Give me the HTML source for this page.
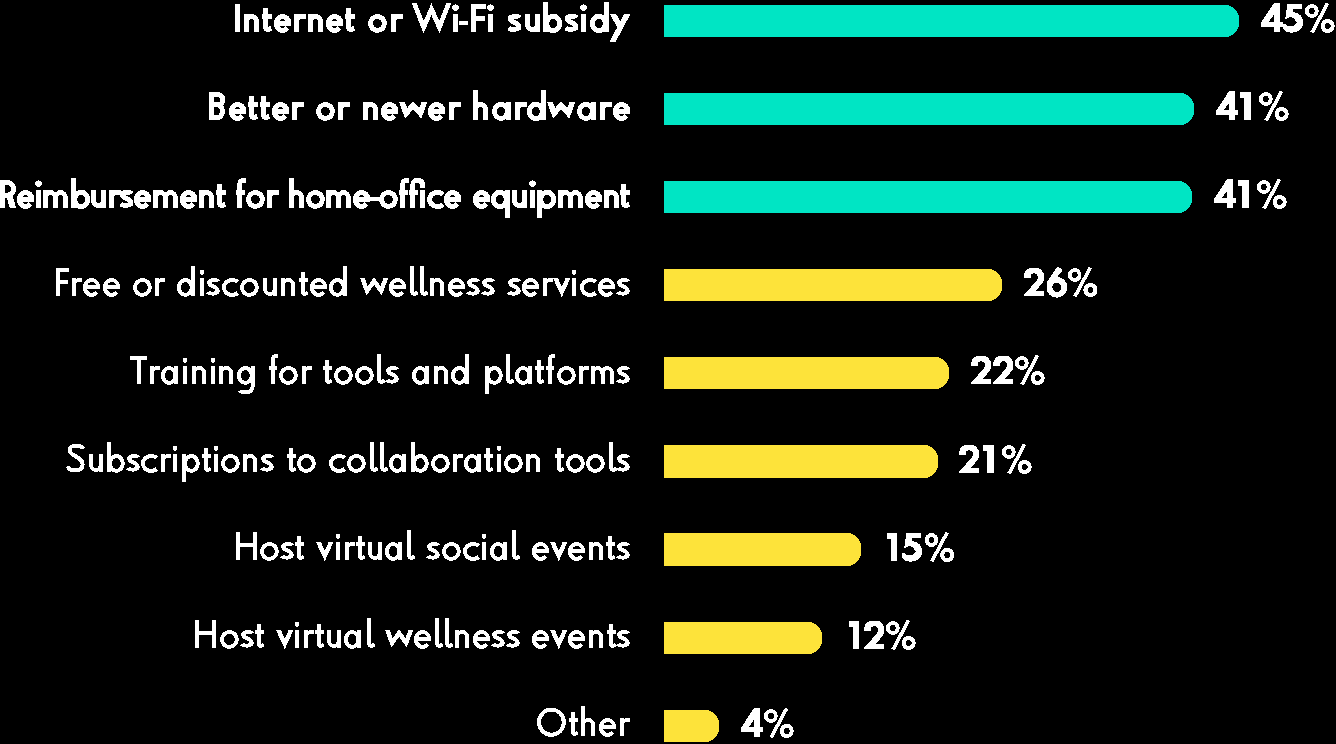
<!DOCTYPE html>
<html><head><meta charset="utf-8"><style>
html,body{margin:0;padding:0;background:#000;width:1336px;height:744px;overflow:hidden}
body{position:relative}
.bar{position:absolute;left:664px;border-radius:0 14px 14px 0}
.ov{position:absolute;left:0;top:0;fill:#fff;fill-rule:evenodd}
.ov .s{fill:none;stroke:#fff}
.tx{position:absolute;left:0;top:0;width:1336px;height:744px;overflow:hidden;color:transparent;font-family:"Liberation Sans",sans-serif;font-size:30px;line-height:34px;white-space:nowrap;pointer-events:none}
.tl{position:absolute;right:706px}
.tp{position:absolute;font-weight:bold}
</style></head><body>
<svg shape-rendering="crispEdges" class="ov" width="1336" height="744"><defs><clipPath id="cC"><rect x="-10" y="-29" width="80" height="30.7"/></clipPath><clipPath id="cX"><rect x="-10" y="-18" width="60" height="19.2"/></clipPath><clipPath id="cD"><rect x="-10" y="-18" width="60" height="28"/></clipPath></defs><path fill="#00e5c4" d="M664,5 L1225,5 A14,14 0 0 1 1239,19 L1239,23 A14,14 0 0 1 1225,37 L664,37 Z"/><path fill="#00e5c4" d="M664,93 L1180,93 A14,14 0 0 1 1194,107 L1194,111 A14,14 0 0 1 1180,125 L664,125 Z"/><path fill="#00e5c4" d="M664,181 L1178,181 A14,14 0 0 1 1192,195 L1192,199 A14,14 0 0 1 1178,213 L664,213 Z"/><path fill="#fde33a" d="M664,269 L988,269 A14,14 0 0 1 1002,283 L1002,287 A14,14 0 0 1 988,301 L664,301 Z"/><path fill="#fde33a" d="M664,357 L935,357 A14,14 0 0 1 949,371 L949,375 A14,14 0 0 1 935,389 L664,389 Z"/><path fill="#fde33a" d="M664,445 L924,445 A14,14 0 0 1 938,459 L938,464 A14,14 0 0 1 924,478 L664,478 Z"/><path fill="#fde33a" d="M664,533 L847,533 A14,14 0 0 1 861,547 L861,552 A14,14 0 0 1 847,566 L664,566 Z"/><path fill="#fde33a" d="M664,622 L808,622 A14,14 0 0 1 822,636 L822,640 A14,14 0 0 1 808,654 L664,654 Z"/><path fill="#fde33a" d="M664,710 L705,710 A14,14 0 0 1 719,724 L719,728 A14,14 0 0 1 705,742 L664,742 Z"/><g transform="translate(235.10,32)" stroke-width="5.0"><g transform="translate(-0.10,0)"><path class="s" d="M2.5,-28 L2.5,0"/></g><g transform="translate(8.90,0)"><path class="s" d="M2.5,-18 L2.5,0"/><path class="s" d="M2.5,-10.1 A5,5.4 0 0 1 12.5,-10.1 L12.5,0"/></g><g transform="translate(26.90,0)"><path class="s" d="M3.8,-24 L3.8,-5.5 C3.8,-1.6 5.4,-2.5 9.4,-3.4"/><path class="s" d="M0,-15.5 L9.7,-15.5"/></g><g transform="translate(38.90,0)"><path class="s" d="M14.9,-8.55 L14.78,-9.93 L14.41,-11.25 L13.82,-12.47 L13.03,-13.53 L12.06,-14.39 L10.97,-15.02 L9.78,-15.39 L8.55,-15.5 L7.32,-15.33 L6.15,-14.88 L5.08,-14.19 L4.16,-13.28 L3.41,-12.17 L2.87,-10.93 L2.57,-9.59 L2.51,-8.2 L2.69,-6.84 L3.11,-5.53 L3.76,-4.35 L4.6,-3.34 L5.6,-2.53 L6.73,-1.96 L7.93,-1.65 L9.16,-1.62 L10.38,-1.86 L11.53,-2.37 L12.57,-3.12 L13.45,-4.08"/><path class="s" d="M1.25,-8.5 L16.9,-8.5"/></g><g transform="translate(58.90,0)"><path class="s" d="M2.5,-18 L2.5,0"/><path class="s" d="M2.5,-10.5 C2.5,-15.5 6,-15.5 12,-15.5"/></g><g transform="translate(72.90,0)"><path class="s" d="M2.5,-18 L2.5,0"/><path class="s" d="M2.5,-10.1 A5,5.4 0 0 1 12.5,-10.1 L12.5,0"/></g><g transform="translate(90.90,0)"><path class="s" d="M14.9,-8.55 L14.78,-9.93 L14.41,-11.25 L13.82,-12.47 L13.03,-13.53 L12.06,-14.39 L10.97,-15.02 L9.78,-15.39 L8.55,-15.5 L7.32,-15.33 L6.15,-14.88 L5.08,-14.19 L4.16,-13.28 L3.41,-12.17 L2.87,-10.93 L2.57,-9.59 L2.51,-8.2 L2.69,-6.84 L3.11,-5.53 L3.76,-4.35 L4.6,-3.34 L5.6,-2.53 L6.73,-1.96 L7.93,-1.65 L9.16,-1.62 L10.38,-1.86 L11.53,-2.37 L12.57,-3.12 L13.45,-4.08"/><path class="s" d="M1.25,-8.5 L16.9,-8.5"/></g><g transform="translate(109.90,0)"><path class="s" d="M3.8,-24 L3.8,-5.5 C3.8,-1.6 5.4,-2.5 9.4,-3.4"/><path class="s" d="M0,-15.5 L9.7,-15.5"/></g><g transform="translate(132.90,0)"><path class="s" d="M2.5,-8.55 A6.95,6.95 0 1 1 16.4,-8.55 A6.95,6.95 0 1 1 2.5,-8.55 Z"/></g><g transform="translate(155.90,0)"><path class="s" d="M2.5,-18 L2.5,0"/><path class="s" d="M2.5,-10.5 C2.5,-15.5 6,-15.5 12,-15.5"/></g><g transform="translate(176.90,0)"><path class="s" clip-path="url(#cC)" stroke-width="4.75" stroke-linejoin="miter" stroke-miterlimit="20" d="M0.19,-34 L11.7,-4.78 L19.5,-22.82 L27.3,-4.78 L38.81,-34"/></g><g transform="translate(217.90,0)"><path class="s" d="M2.5,-18 L2.5,0"/><path d="M-0.7,-24.4 A3.2,3.2 0 1 1 5.7,-24.4 A3.2,3.2 0 1 1 -0.7,-24.4 Z"/></g><g transform="translate(223.90,0)"><path class="s" stroke-width="4.10" stroke-linejoin="miter" stroke-miterlimit="20" d="M0,-9.2 L9.3,-9.2"/></g><g transform="translate(235.90,0)"><path class="s" d="M2.5,0 L2.5,-25.5 L15.2,-25.5 M2.5,-13.6 L14.4,-13.6"/></g><g transform="translate(252.90,0)"><path class="s" d="M2.5,-18 L2.5,0"/><path d="M-0.7,-24.4 A3.2,3.2 0 1 1 5.7,-24.4 A3.2,3.2 0 1 1 -0.7,-24.4 Z"/></g><g transform="translate(272.90,0)"><path class="s" d="M11.49,-14.4 C10.31,-15.9 2.68,-16.1 2.25,-13.4 C1.83,-9.4 11.27,-9.8 11.06,-5 C10.95,-2.2 2.58,-2.3 0.75,-3.8"/></g><g transform="translate(289.90,0)"><path class="s" d="M12.3,-18 L12.3,0"/><path class="s" d="M2.5,-18 L2.5,-7.79 A4.9,5.29 0 0 0 12.3,-7.79"/></g><g transform="translate(307.90,0)"><path class="s" d="M3.75,-8.55 A6.38,6.95 0 1 1 16.5,-8.55 A6.38,6.95 0 1 1 3.75,-8.55 Z"/><path class="s" d="M2.5,-30 L2.5,0"/></g><g transform="translate(329.90,0)"><path class="s" d="M11.49,-14.4 C10.31,-15.9 2.68,-16.1 2.25,-13.4 C1.83,-9.4 11.27,-9.8 11.06,-5 C10.95,-2.2 2.58,-2.3 0.75,-3.8"/></g><g transform="translate(345.90,0)"><path class="s" d="M2.5,-18 L2.5,0"/><path d="M-0.7,-24.4 A3.2,3.2 0 1 1 5.7,-24.4 A3.2,3.2 0 1 1 -0.7,-24.4 Z"/></g><g transform="translate(354.90,0)"><path class="s" d="M2.5,-8.55 A6.38,6.95 0 1 1 15.25,-8.55 A6.38,6.95 0 1 1 2.5,-8.55 Z"/><path class="s" d="M16.5,-30 L16.5,0"/></g><g transform="translate(374.90,0)"><path class="s" clip-path="url(#cD)" stroke-width="5.50" stroke-linejoin="miter" stroke-miterlimit="20" d="M20.59,-24 L0.83,13"/><path class="s" clip-path="url(#cD)" stroke-width="5.50" stroke-linejoin="miter" stroke-miterlimit="20" d="M-0.09,-24 L10.25,-4.64"/></g></g><g transform="translate(209.00,120)" stroke-width="5.0"><g transform="translate(0.00,0)"><path class="s" d="M2.5,0 L2.5,-25.5 L8.16,-25.5 C15.81,-25.5 15.81,-15.2 8.16,-15.2 L2.5,-15.2 M8.16,-15.2 C15.1,-15.2 15.1,-2.5 8.16,-2.5 L2.5,-2.5"/></g><g transform="translate(20.00,0)"><path class="s" d="M14.9,-8.55 L14.78,-9.93 L14.41,-11.25 L13.82,-12.47 L13.03,-13.53 L12.06,-14.39 L10.97,-15.02 L9.78,-15.39 L8.55,-15.5 L7.32,-15.33 L6.15,-14.88 L5.08,-14.19 L4.16,-13.28 L3.41,-12.17 L2.87,-10.93 L2.57,-9.59 L2.51,-8.2 L2.69,-6.84 L3.11,-5.53 L3.76,-4.35 L4.6,-3.34 L5.6,-2.53 L6.73,-1.96 L7.93,-1.65 L9.16,-1.62 L10.38,-1.86 L11.53,-2.37 L12.57,-3.12 L13.45,-4.08"/><path class="s" d="M1.25,-8.5 L16.9,-8.5"/></g><g transform="translate(39.00,0)"><path class="s" d="M3.8,-24 L3.8,-5.5 C3.8,-1.6 5.4,-2.5 9.4,-3.4"/><path class="s" d="M0,-15.5 L9.7,-15.5"/></g><g transform="translate(51.00,0)"><path class="s" d="M3.8,-24 L3.8,-5.5 C3.8,-1.6 5.4,-2.5 9.4,-3.4"/><path class="s" d="M0,-15.5 L9.7,-15.5"/></g><g transform="translate(63.00,0)"><path class="s" d="M14.9,-8.55 L14.78,-9.93 L14.41,-11.25 L13.82,-12.47 L13.03,-13.53 L12.06,-14.39 L10.97,-15.02 L9.78,-15.39 L8.55,-15.5 L7.32,-15.33 L6.15,-14.88 L5.08,-14.19 L4.16,-13.28 L3.41,-12.17 L2.87,-10.93 L2.57,-9.59 L2.51,-8.2 L2.69,-6.84 L3.11,-5.53 L3.76,-4.35 L4.6,-3.34 L5.6,-2.53 L6.73,-1.96 L7.93,-1.65 L9.16,-1.62 L10.38,-1.86 L11.53,-2.37 L12.57,-3.12 L13.45,-4.08"/><path class="s" d="M1.25,-8.5 L16.9,-8.5"/></g><g transform="translate(83.00,0)"><path class="s" d="M2.5,-18 L2.5,0"/><path class="s" d="M2.5,-10.5 C2.5,-15.5 6,-15.5 12,-15.5"/></g><g transform="translate(107.00,0)"><path class="s" d="M2.5,-8.55 A6.95,6.95 0 1 1 16.4,-8.55 A6.95,6.95 0 1 1 2.5,-8.55 Z"/></g><g transform="translate(129.00,0)"><path class="s" d="M2.5,-18 L2.5,0"/><path class="s" d="M2.5,-10.5 C2.5,-15.5 6,-15.5 12,-15.5"/></g><g transform="translate(154.00,0)"><path class="s" d="M2.5,-18 L2.5,0"/><path class="s" d="M2.5,-10.1 A5,5.4 0 0 1 12.5,-10.1 L12.5,0"/></g><g transform="translate(172.00,0)"><path class="s" d="M14.9,-8.55 L14.78,-9.93 L14.41,-11.25 L13.82,-12.47 L13.03,-13.53 L12.06,-14.39 L10.97,-15.02 L9.78,-15.39 L8.55,-15.5 L7.32,-15.33 L6.15,-14.88 L5.08,-14.19 L4.16,-13.28 L3.41,-12.17 L2.87,-10.93 L2.57,-9.59 L2.51,-8.2 L2.69,-6.84 L3.11,-5.53 L3.76,-4.35 L4.6,-3.34 L5.6,-2.53 L6.73,-1.96 L7.93,-1.65 L9.16,-1.62 L10.38,-1.86 L11.53,-2.37 L12.57,-3.12 L13.45,-4.08"/><path class="s" d="M1.25,-8.5 L16.9,-8.5"/></g><g transform="translate(190.00,0)"><path class="s" clip-path="url(#cX)" stroke-width="5.50" stroke-linejoin="miter" stroke-miterlimit="20" d="M0.71,-24 L7.1,-6.73 L14.2,-14.67 L21.3,-6.73 L27.69,-24"/></g><g transform="translate(219.00,0)"><path class="s" d="M14.9,-8.55 L14.78,-9.93 L14.41,-11.25 L13.82,-12.47 L13.03,-13.53 L12.06,-14.39 L10.97,-15.02 L9.78,-15.39 L8.55,-15.5 L7.32,-15.33 L6.15,-14.88 L5.08,-14.19 L4.16,-13.28 L3.41,-12.17 L2.87,-10.93 L2.57,-9.59 L2.51,-8.2 L2.69,-6.84 L3.11,-5.53 L3.76,-4.35 L4.6,-3.34 L5.6,-2.53 L6.73,-1.96 L7.93,-1.65 L9.16,-1.62 L10.38,-1.86 L11.53,-2.37 L12.57,-3.12 L13.45,-4.08"/><path class="s" d="M1.25,-8.5 L16.9,-8.5"/></g><g transform="translate(240.00,0)"><path class="s" d="M2.5,-18 L2.5,0"/><path class="s" d="M2.5,-10.5 C2.5,-15.5 6,-15.5 12,-15.5"/></g><g transform="translate(264.00,0)"><path class="s" d="M2.5,-30 L2.5,0"/><path class="s" d="M2.5,-10.1 A5,5.4 0 0 1 12.5,-10.1 L12.5,0"/></g><g transform="translate(283.00,0)"><path class="s" d="M2.5,-8.55 A6.47,6.95 0 1 1 15.45,-8.55 A6.47,6.95 0 1 1 2.5,-8.55 Z"/><path class="s" d="M16.7,-18 L16.7,0"/></g><g transform="translate(306.00,0)"><path class="s" d="M2.5,-18 L2.5,0"/><path class="s" d="M2.5,-10.5 C2.5,-15.5 6,-15.5 12,-15.5"/></g><g transform="translate(318.00,0)"><path class="s" d="M2.5,-8.55 A6.38,6.95 0 1 1 15.25,-8.55 A6.38,6.95 0 1 1 2.5,-8.55 Z"/><path class="s" d="M16.5,-30 L16.5,0"/></g><g transform="translate(338.00,0)"><path class="s" clip-path="url(#cX)" stroke-width="5.50" stroke-linejoin="miter" stroke-miterlimit="20" d="M0.71,-24 L7.1,-6.73 L14.2,-14.67 L21.3,-6.73 L27.69,-24"/></g><g transform="translate(368.00,0)"><path class="s" d="M2.5,-8.55 A6.47,6.95 0 1 1 15.45,-8.55 A6.47,6.95 0 1 1 2.5,-8.55 Z"/><path class="s" d="M16.7,-18 L16.7,0"/></g><g transform="translate(391.00,0)"><path class="s" d="M2.5,-18 L2.5,0"/><path class="s" d="M2.5,-10.5 C2.5,-15.5 6,-15.5 12,-15.5"/></g><g transform="translate(404.00,0)"><path class="s" d="M14.9,-8.55 L14.78,-9.93 L14.41,-11.25 L13.82,-12.47 L13.03,-13.53 L12.06,-14.39 L10.97,-15.02 L9.78,-15.39 L8.55,-15.5 L7.32,-15.33 L6.15,-14.88 L5.08,-14.19 L4.16,-13.28 L3.41,-12.17 L2.87,-10.93 L2.57,-9.59 L2.51,-8.2 L2.69,-6.84 L3.11,-5.53 L3.76,-4.35 L4.6,-3.34 L5.6,-2.53 L6.73,-1.96 L7.93,-1.65 L9.16,-1.62 L10.38,-1.86 L11.53,-2.37 L12.57,-3.12 L13.45,-4.08"/><path class="s" d="M1.25,-8.5 L16.9,-8.5"/></g></g><g transform="translate(0.00,208)" stroke-width="5.0"><g transform="translate(0.00,0)"><path class="s" d="M2.5,0 L2.5,-25.5 L6.8,-25.5 C15.88,-25.5 15.88,-12.8 6.8,-12.8 L2.5,-12.8"/><path d="M5.83,-13.6 L12.08,-13.6 L16.2,0 L9.7,0 Z"/></g><g transform="translate(17.00,0)"><path class="s" d="M14.9,-8.55 L14.78,-9.93 L14.41,-11.25 L13.82,-12.47 L13.03,-13.53 L12.06,-14.39 L10.97,-15.02 L9.78,-15.39 L8.55,-15.5 L7.32,-15.33 L6.15,-14.88 L5.08,-14.19 L4.16,-13.28 L3.41,-12.17 L2.87,-10.93 L2.57,-9.59 L2.51,-8.2 L2.69,-6.84 L3.11,-5.53 L3.76,-4.35 L4.6,-3.34 L5.6,-2.53 L6.73,-1.96 L7.93,-1.65 L9.16,-1.62 L10.38,-1.86 L11.53,-2.37 L12.57,-3.12 L13.45,-4.08"/><path class="s" d="M1.25,-8.5 L16.9,-8.5"/></g><g transform="translate(36.00,0)"><path class="s" d="M2.5,-18 L2.5,0"/><path d="M-0.7,-24.4 A3.2,3.2 0 1 1 5.7,-24.4 A3.2,3.2 0 1 1 -0.7,-24.4 Z"/></g><g transform="translate(43.00,0)"><path class="s" d="M2.5,-18 L2.5,0"/><path class="s" d="M2.5,-9.25 A5,6.25 0 0 1 12.5,-9.25 L12.5,0"/><path class="s" d="M12.5,-9.25 A5,6.25 0 0 1 22.5,-9.25 L22.5,0"/></g><g transform="translate(71.00,0)"><path class="s" d="M3.75,-8.55 A6.38,6.95 0 1 1 16.5,-8.55 A6.38,6.95 0 1 1 3.75,-8.55 Z"/><path class="s" d="M2.5,-30 L2.5,0"/></g><g transform="translate(91.00,0)"><path class="s" d="M12.3,-18 L12.3,0"/><path class="s" d="M2.5,-18 L2.5,-7.79 A4.9,5.29 0 0 0 12.3,-7.79"/></g><g transform="translate(109.00,0)"><path class="s" d="M2.5,-18 L2.5,0"/><path class="s" d="M2.5,-10.5 C2.5,-15.5 6,-15.5 12,-15.5"/></g><g transform="translate(120.00,0)"><path class="s" d="M11.49,-14.4 C10.31,-15.9 2.68,-16.1 2.25,-13.4 C1.83,-9.4 11.27,-9.8 11.06,-5 C10.95,-2.2 2.58,-2.3 0.75,-3.8"/></g><g transform="translate(134.00,0)"><path class="s" d="M14.9,-8.55 L14.78,-9.93 L14.41,-11.25 L13.82,-12.47 L13.03,-13.53 L12.06,-14.39 L10.97,-15.02 L9.78,-15.39 L8.55,-15.5 L7.32,-15.33 L6.15,-14.88 L5.08,-14.19 L4.16,-13.28 L3.41,-12.17 L2.87,-10.93 L2.57,-9.59 L2.51,-8.2 L2.69,-6.84 L3.11,-5.53 L3.76,-4.35 L4.6,-3.34 L5.6,-2.53 L6.73,-1.96 L7.93,-1.65 L9.16,-1.62 L10.38,-1.86 L11.53,-2.37 L12.57,-3.12 L13.45,-4.08"/><path class="s" d="M1.25,-8.5 L16.9,-8.5"/></g><g transform="translate(153.00,0)"><path class="s" d="M2.5,-18 L2.5,0"/><path class="s" d="M2.5,-9.25 A5,6.25 0 0 1 12.5,-9.25 L12.5,0"/><path class="s" d="M12.5,-9.25 A5,6.25 0 0 1 22.5,-9.25 L22.5,0"/></g><g transform="translate(180.00,0)"><path class="s" d="M14.9,-8.55 L14.78,-9.93 L14.41,-11.25 L13.82,-12.47 L13.03,-13.53 L12.06,-14.39 L10.97,-15.02 L9.78,-15.39 L8.55,-15.5 L7.32,-15.33 L6.15,-14.88 L5.08,-14.19 L4.16,-13.28 L3.41,-12.17 L2.87,-10.93 L2.57,-9.59 L2.51,-8.2 L2.69,-6.84 L3.11,-5.53 L3.76,-4.35 L4.6,-3.34 L5.6,-2.53 L6.73,-1.96 L7.93,-1.65 L9.16,-1.62 L10.38,-1.86 L11.53,-2.37 L12.57,-3.12 L13.45,-4.08"/><path class="s" d="M1.25,-8.5 L16.9,-8.5"/></g><g transform="translate(199.00,0)"><path class="s" d="M2.5,-18 L2.5,0"/><path class="s" d="M2.5,-10.1 A5,5.4 0 0 1 12.5,-10.1 L12.5,0"/></g><g transform="translate(216.00,0)"><path class="s" d="M3.8,-24 L3.8,-5.5 C3.8,-1.6 5.4,-2.5 9.4,-3.4"/><path class="s" d="M0,-15.5 L9.7,-15.5"/></g><g transform="translate(236.00,0)"><path class="s" d="M3.8,0 L3.8,-23 C3.8,-27.5 6,-27.5 10,-27.5"/><path class="s" d="M0,-15.5 L8.8,-15.5"/></g><g transform="translate(246.00,0)"><path class="s" d="M2.5,-8.55 A6.95,6.95 0 1 1 16.4,-8.55 A6.95,6.95 0 1 1 2.5,-8.55 Z"/></g><g transform="translate(267.00,0)"><path class="s" d="M2.5,-18 L2.5,0"/><path class="s" d="M2.5,-10.5 C2.5,-15.5 6,-15.5 12,-15.5"/></g><g transform="translate(289.00,0)"><path class="s" d="M2.5,-30 L2.5,0"/><path class="s" d="M2.5,-10.1 A5,5.4 0 0 1 12.5,-10.1 L12.5,0"/></g><g transform="translate(306.00,0)"><path class="s" d="M2.5,-8.55 A6.95,6.95 0 1 1 16.4,-8.55 A6.95,6.95 0 1 1 2.5,-8.55 Z"/></g><g transform="translate(326.00,0)"><path class="s" d="M2.5,-18 L2.5,0"/><path class="s" d="M2.5,-9.25 A5,6.25 0 0 1 12.5,-9.25 L12.5,0"/><path class="s" d="M12.5,-9.25 A5,6.25 0 0 1 22.5,-9.25 L22.5,0"/></g><g transform="translate(353.00,0)"><path class="s" d="M14.9,-8.55 L14.78,-9.93 L14.41,-11.25 L13.82,-12.47 L13.03,-13.53 L12.06,-14.39 L10.97,-15.02 L9.78,-15.39 L8.55,-15.5 L7.32,-15.33 L6.15,-14.88 L5.08,-14.19 L4.16,-13.28 L3.41,-12.17 L2.87,-10.93 L2.57,-9.59 L2.51,-8.2 L2.69,-6.84 L3.11,-5.53 L3.76,-4.35 L4.6,-3.34 L5.6,-2.53 L6.73,-1.96 L7.93,-1.65 L9.16,-1.62 L10.38,-1.86 L11.53,-2.37 L12.57,-3.12 L13.45,-4.08"/><path class="s" d="M1.25,-8.5 L16.9,-8.5"/></g><g transform="translate(370.00,0)"><path class="s" stroke-width="4.10" stroke-linejoin="miter" stroke-miterlimit="20" d="M0,-9.2 L9.3,-9.2"/></g><g transform="translate(379.00,0)"><path class="s" d="M2.5,-8.55 A6.95,6.95 0 1 1 16.4,-8.55 A6.95,6.95 0 1 1 2.5,-8.55 Z"/></g><g transform="translate(399.00,0)"><path class="s" d="M3.8,0 L3.8,-23 C3.8,-27.5 6,-27.5 10,-27.5"/><path class="s" d="M0,-15.5 L8.8,-15.5"/></g><g transform="translate(409.00,0)"><path class="s" d="M3.8,0 L3.8,-23 C3.8,-27.5 6,-27.5 8.7,-27.5 C12.1,-27.5 13.6,-25.5 13.6,-22.5 L13.6,-20.2"/><path class="s" d="M0,-15.5 L8.8,-15.5"/></g><g transform="translate(420.00,0)"><path class="s" d="M2.5,-18 L2.5,0"/></g><g transform="translate(427.00,0)"><path class="s" d="M16.04,-13.71 L14.98,-14.41 L13.8,-14.94 L12.53,-15.3 L11.22,-15.48 L9.88,-15.47 L8.57,-15.28 L7.31,-14.9 L6.14,-14.35 L5.09,-13.64 L4.19,-12.8 L3.47,-11.84 L2.94,-10.8 L2.61,-9.69 L2.5,-8.55 L2.61,-7.41 L2.94,-6.3 L3.47,-5.26 L4.19,-4.3 L5.09,-3.46 L6.14,-2.75 L7.31,-2.2 L8.57,-1.82 L9.88,-1.63 L11.22,-1.62 L12.53,-1.8 L13.8,-2.16 L14.98,-2.69 L16.04,-3.39"/></g><g transform="translate(444.00,0)"><path class="s" d="M14.9,-8.55 L14.78,-9.93 L14.41,-11.25 L13.82,-12.47 L13.03,-13.53 L12.06,-14.39 L10.97,-15.02 L9.78,-15.39 L8.55,-15.5 L7.32,-15.33 L6.15,-14.88 L5.08,-14.19 L4.16,-13.28 L3.41,-12.17 L2.87,-10.93 L2.57,-9.59 L2.51,-8.2 L2.69,-6.84 L3.11,-5.53 L3.76,-4.35 L4.6,-3.34 L5.6,-2.53 L6.73,-1.96 L7.93,-1.65 L9.16,-1.62 L10.38,-1.86 L11.53,-2.37 L12.57,-3.12 L13.45,-4.08"/><path class="s" d="M1.25,-8.5 L16.9,-8.5"/></g><g transform="translate(473.00,0)"><path class="s" d="M14.9,-8.55 L14.78,-9.93 L14.41,-11.25 L13.82,-12.47 L13.03,-13.53 L12.06,-14.39 L10.97,-15.02 L9.78,-15.39 L8.55,-15.5 L7.32,-15.33 L6.15,-14.88 L5.08,-14.19 L4.16,-13.28 L3.41,-12.17 L2.87,-10.93 L2.57,-9.59 L2.51,-8.2 L2.69,-6.84 L3.11,-5.53 L3.76,-4.35 L4.6,-3.34 L5.6,-2.53 L6.73,-1.96 L7.93,-1.65 L9.16,-1.62 L10.38,-1.86 L11.53,-2.37 L12.57,-3.12 L13.45,-4.08"/><path class="s" d="M1.25,-8.5 L16.9,-8.5"/></g><g transform="translate(491.00,0)"><path class="s" d="M2.5,-8.55 A6.38,6.95 0 1 1 15.25,-8.55 A6.38,6.95 0 1 1 2.5,-8.55 Z"/><path class="s" d="M16.5,-18 L16.5,10"/></g><g transform="translate(512.00,0)"><path class="s" d="M12.3,-18 L12.3,0"/><path class="s" d="M2.5,-18 L2.5,-7.79 A4.9,5.29 0 0 0 12.3,-7.79"/></g><g transform="translate(530.00,0)"><path class="s" d="M2.5,-18 L2.5,0"/><path d="M-0.7,-24.4 A3.2,3.2 0 1 1 5.7,-24.4 A3.2,3.2 0 1 1 -0.7,-24.4 Z"/></g><g transform="translate(537.00,0)"><path class="s" d="M3.75,-8.55 A6.38,6.95 0 1 1 16.5,-8.55 A6.38,6.95 0 1 1 3.75,-8.55 Z"/><path class="s" d="M2.5,-18 L2.5,10"/></g><g transform="translate(558.00,0)"><path class="s" d="M2.5,-18 L2.5,0"/><path class="s" d="M2.5,-9.25 A5,6.25 0 0 1 12.5,-9.25 L12.5,0"/><path class="s" d="M12.5,-9.25 A5,6.25 0 0 1 22.5,-9.25 L22.5,0"/></g><g transform="translate(585.00,0)"><path class="s" d="M14.9,-8.55 L14.78,-9.93 L14.41,-11.25 L13.82,-12.47 L13.03,-13.53 L12.06,-14.39 L10.97,-15.02 L9.78,-15.39 L8.55,-15.5 L7.32,-15.33 L6.15,-14.88 L5.08,-14.19 L4.16,-13.28 L3.41,-12.17 L2.87,-10.93 L2.57,-9.59 L2.51,-8.2 L2.69,-6.84 L3.11,-5.53 L3.76,-4.35 L4.6,-3.34 L5.6,-2.53 L6.73,-1.96 L7.93,-1.65 L9.16,-1.62 L10.38,-1.86 L11.53,-2.37 L12.57,-3.12 L13.45,-4.08"/><path class="s" d="M1.25,-8.5 L16.9,-8.5"/></g><g transform="translate(604.00,0)"><path class="s" d="M2.5,-18 L2.5,0"/><path class="s" d="M2.5,-10.1 A5,5.4 0 0 1 12.5,-10.1 L12.5,0"/></g><g transform="translate(620.00,0)"><path class="s" d="M3.8,-24 L3.8,-5.5 C3.8,-1.6 5.4,-2.5 9.4,-3.4"/><path class="s" d="M0,-15.5 L9.7,-15.5"/></g></g><g transform="translate(56.40,296)" stroke-width="4.0"><g transform="translate(-0.40,0)"><path class="s" d="M2,0 L2,-26 L12.9,-26 M2,-13.6 L12.1,-13.6"/></g><g transform="translate(15.60,0)"><path class="s" d="M2,-18 L2,0"/><path class="s" d="M2,-10.5 C2,-16 4.8,-16 9.6,-16"/></g><g transform="translate(26.60,0)"><path class="s" d="M15.3,-8.55 L15.17,-10.03 L14.78,-11.44 L14.14,-12.75 L13.29,-13.88 L12.26,-14.81 L11.08,-15.49 L9.8,-15.89 L8.48,-16 L7.17,-15.81 L5.91,-15.34 L4.77,-14.6 L3.78,-13.62 L2.98,-12.43 L2.4,-11.1 L2.07,-9.66 L2.01,-8.18 L2.21,-6.71 L2.66,-5.32 L3.35,-4.05 L4.25,-2.96 L5.32,-2.1 L6.53,-1.49 L7.82,-1.16 L9.15,-1.12 L10.45,-1.38 L11.68,-1.92 L12.8,-2.73 L13.74,-3.76"/><path class="s" d="M1,-9.4 L16.9,-9.4"/></g><g transform="translate(46.60,0)"><path class="s" d="M15.3,-8.55 L15.17,-10.03 L14.78,-11.44 L14.14,-12.75 L13.29,-13.88 L12.26,-14.81 L11.08,-15.49 L9.8,-15.89 L8.48,-16 L7.17,-15.81 L5.91,-15.34 L4.77,-14.6 L3.78,-13.62 L2.98,-12.43 L2.4,-11.1 L2.07,-9.66 L2.01,-8.18 L2.21,-6.71 L2.66,-5.32 L3.35,-4.05 L4.25,-2.96 L5.32,-2.1 L6.53,-1.49 L7.82,-1.16 L9.15,-1.12 L10.45,-1.38 L11.68,-1.92 L12.8,-2.73 L13.74,-3.76"/><path class="s" d="M1,-9.4 L16.9,-9.4"/></g><g transform="translate(76.60,0)"><path class="s" d="M2,-8.55 A7.4,7.45 0 1 1 16.8,-8.55 A7.4,7.45 0 1 1 2,-8.55 Z"/></g><g transform="translate(98.60,0)"><path class="s" d="M2,-18 L2,0"/><path class="s" d="M2,-10.5 C2,-16 4.8,-16 9.6,-16"/></g><g transform="translate(120.60,0)"><path class="s" d="M2,-8.55 A6.35,7.45 0 1 1 14.7,-8.55 A6.35,7.45 0 1 1 2,-8.55 Z"/><path class="s" d="M15.7,-30 L15.7,0"/></g><g transform="translate(143.60,0)"><path class="s" d="M2,-18 L2,0"/><path d="M-0.4,-23.6 A2.4,2.4 0 1 1 4.4,-23.6 A2.4,2.4 0 1 1 -0.4,-23.6 Z"/></g><g transform="translate(150.60,0)"><path class="s" d="M11.05,-14.4 C9.91,-16.4 2.58,-16.6 2.17,-13.4 C1.76,-9.4 10.84,-9.8 10.64,-5 C10.53,-1.7 2.48,-1.8 0.72,-3.8"/></g><g transform="translate(165.60,0)"><path class="s" d="M15.73,-14.09 L14.66,-14.83 L13.46,-15.4 L12.18,-15.79 L10.84,-15.98 L9.49,-15.97 L8.16,-15.76 L6.88,-15.36 L5.69,-14.77 L4.63,-14.01 L3.72,-13.11 L2.98,-12.08 L2.44,-10.96 L2.11,-9.77 L2,-8.55 L2.11,-7.33 L2.44,-6.14 L2.98,-5.02 L3.72,-3.99 L4.63,-3.09 L5.69,-2.33 L6.88,-1.74 L8.16,-1.34 L9.49,-1.13 L10.84,-1.12 L12.18,-1.31 L13.46,-1.7 L14.66,-2.27 L15.73,-3.01"/></g><g transform="translate(183.60,0)"><path class="s" d="M2,-8.55 A7.4,7.45 0 1 1 16.8,-8.55 A7.4,7.45 0 1 1 2,-8.55 Z"/></g><g transform="translate(206.60,0)"><path class="s" d="M11.8,-18 L11.8,0"/><path class="s" d="M2,-18 L2,-7.29 A4.9,5.29 0 0 0 11.8,-7.29"/></g><g transform="translate(224.60,0)"><path class="s" d="M2,-18 L2,0"/><path class="s" d="M2,-10.49 A5.1,5.51 0 0 1 12.2,-10.49 L12.2,0"/></g><g transform="translate(242.60,0)"><path class="s" d="M3.5,-24 L3.5,-5.5 C3.5,-1.6 5.1,-2 8.7,-2.9"/><path class="s" d="M0,-16 L9,-16"/></g><g transform="translate(253.60,0)"><path class="s" d="M15.3,-8.55 L15.17,-10.03 L14.78,-11.44 L14.14,-12.75 L13.29,-13.88 L12.26,-14.81 L11.08,-15.49 L9.8,-15.89 L8.48,-16 L7.17,-15.81 L5.91,-15.34 L4.77,-14.6 L3.78,-13.62 L2.98,-12.43 L2.4,-11.1 L2.07,-9.66 L2.01,-8.18 L2.21,-6.71 L2.66,-5.32 L3.35,-4.05 L4.25,-2.96 L5.32,-2.1 L6.53,-1.49 L7.82,-1.16 L9.15,-1.12 L10.45,-1.38 L11.68,-1.92 L12.8,-2.73 L13.74,-3.76"/><path class="s" d="M1,-9.4 L16.9,-9.4"/></g><g transform="translate(272.60,0)"><path class="s" d="M2,-8.55 A6.35,7.45 0 1 1 14.7,-8.55 A6.35,7.45 0 1 1 2,-8.55 Z"/><path class="s" d="M15.7,-30 L15.7,0"/></g><g transform="translate(303.60,0)"><path class="s" clip-path="url(#cX)" stroke-width="4.40" stroke-linejoin="miter" stroke-miterlimit="20" d="M0.14,-24 L7.05,-5.18 L14.1,-15.02 L21.15,-5.18 L28.06,-24"/></g><g transform="translate(332.60,0)"><path class="s" d="M15.3,-8.55 L15.17,-10.03 L14.78,-11.44 L14.14,-12.75 L13.29,-13.88 L12.26,-14.81 L11.08,-15.49 L9.8,-15.89 L8.48,-16 L7.17,-15.81 L5.91,-15.34 L4.77,-14.6 L3.78,-13.62 L2.98,-12.43 L2.4,-11.1 L2.07,-9.66 L2.01,-8.18 L2.21,-6.71 L2.66,-5.32 L3.35,-4.05 L4.25,-2.96 L5.32,-2.1 L6.53,-1.49 L7.82,-1.16 L9.15,-1.12 L10.45,-1.38 L11.68,-1.92 L12.8,-2.73 L13.74,-3.76"/><path class="s" d="M1,-9.4 L16.9,-9.4"/></g><g transform="translate(353.60,0)"><path class="s" d="M2,-30 L2,-5.5 C2,-1.6 3.6,-2 7.7,-2.9"/></g><g transform="translate(363.60,0)"><path class="s" d="M2,-30 L2,-5.5 C2,-1.6 3.6,-2 7.7,-2.9"/></g><g transform="translate(373.60,0)"><path class="s" d="M2,-18 L2,0"/><path class="s" d="M2,-10.49 A5.1,5.51 0 0 1 12.2,-10.49 L12.2,0"/></g><g transform="translate(391.60,0)"><path class="s" d="M15.3,-8.55 L15.17,-10.03 L14.78,-11.44 L14.14,-12.75 L13.29,-13.88 L12.26,-14.81 L11.08,-15.49 L9.8,-15.89 L8.48,-16 L7.17,-15.81 L5.91,-15.34 L4.77,-14.6 L3.78,-13.62 L2.98,-12.43 L2.4,-11.1 L2.07,-9.66 L2.01,-8.18 L2.21,-6.71 L2.66,-5.32 L3.35,-4.05 L4.25,-2.96 L5.32,-2.1 L6.53,-1.49 L7.82,-1.16 L9.15,-1.12 L10.45,-1.38 L11.68,-1.92 L12.8,-2.73 L13.74,-3.76"/><path class="s" d="M1,-9.4 L16.9,-9.4"/></g><g transform="translate(410.60,0)"><path class="s" d="M11.05,-14.4 C9.91,-16.4 2.58,-16.6 2.17,-13.4 C1.76,-9.4 10.84,-9.8 10.64,-5 C10.53,-1.7 2.48,-1.8 0.72,-3.8"/></g><g transform="translate(425.60,0)"><path class="s" d="M11.05,-14.4 C9.91,-16.4 2.58,-16.6 2.17,-13.4 C1.76,-9.4 10.84,-9.8 10.64,-5 C10.53,-1.7 2.48,-1.8 0.72,-3.8"/></g><g transform="translate(451.60,0)"><path class="s" d="M11.05,-14.4 C9.91,-16.4 2.58,-16.6 2.17,-13.4 C1.76,-9.4 10.84,-9.8 10.64,-5 C10.53,-1.7 2.48,-1.8 0.72,-3.8"/></g><g transform="translate(465.60,0)"><path class="s" d="M15.3,-8.55 L15.17,-10.03 L14.78,-11.44 L14.14,-12.75 L13.29,-13.88 L12.26,-14.81 L11.08,-15.49 L9.8,-15.89 L8.48,-16 L7.17,-15.81 L5.91,-15.34 L4.77,-14.6 L3.78,-13.62 L2.98,-12.43 L2.4,-11.1 L2.07,-9.66 L2.01,-8.18 L2.21,-6.71 L2.66,-5.32 L3.35,-4.05 L4.25,-2.96 L5.32,-2.1 L6.53,-1.49 L7.82,-1.16 L9.15,-1.12 L10.45,-1.38 L11.68,-1.92 L12.8,-2.73 L13.74,-3.76"/><path class="s" d="M1,-9.4 L16.9,-9.4"/></g><g transform="translate(486.60,0)"><path class="s" d="M2,-18 L2,0"/><path class="s" d="M2,-10.5 C2,-16 4.8,-16 9.6,-16"/></g><g transform="translate(496.60,0)"><path class="s" clip-path="url(#cX)" stroke-width="4.40" stroke-linejoin="miter" stroke-miterlimit="20" d="M-0.32,-24 L8.75,-4.11 L17.82,-24"/></g><g transform="translate(515.60,0)"><path class="s" d="M2,-18 L2,0"/><path d="M-0.4,-23.6 A2.4,2.4 0 1 1 4.4,-23.6 A2.4,2.4 0 1 1 -0.4,-23.6 Z"/></g><g transform="translate(523.60,0)"><path class="s" d="M15.73,-14.09 L14.66,-14.83 L13.46,-15.4 L12.18,-15.79 L10.84,-15.98 L9.49,-15.97 L8.16,-15.76 L6.88,-15.36 L5.69,-14.77 L4.63,-14.01 L3.72,-13.11 L2.98,-12.08 L2.44,-10.96 L2.11,-9.77 L2,-8.55 L2.11,-7.33 L2.44,-6.14 L2.98,-5.02 L3.72,-3.99 L4.63,-3.09 L5.69,-2.33 L6.88,-1.74 L8.16,-1.34 L9.49,-1.13 L10.84,-1.12 L12.18,-1.31 L13.46,-1.7 L14.66,-2.27 L15.73,-3.01"/></g><g transform="translate(541.60,0)"><path class="s" d="M15.3,-8.55 L15.17,-10.03 L14.78,-11.44 L14.14,-12.75 L13.29,-13.88 L12.26,-14.81 L11.08,-15.49 L9.8,-15.89 L8.48,-16 L7.17,-15.81 L5.91,-15.34 L4.77,-14.6 L3.78,-13.62 L2.98,-12.43 L2.4,-11.1 L2.07,-9.66 L2.01,-8.18 L2.21,-6.71 L2.66,-5.32 L3.35,-4.05 L4.25,-2.96 L5.32,-2.1 L6.53,-1.49 L7.82,-1.16 L9.15,-1.12 L10.45,-1.38 L11.68,-1.92 L12.8,-2.73 L13.74,-3.76"/><path class="s" d="M1,-9.4 L16.9,-9.4"/></g><g transform="translate(560.60,0)"><path class="s" d="M11.05,-14.4 C9.91,-16.4 2.58,-16.6 2.17,-13.4 C1.76,-9.4 10.84,-9.8 10.64,-5 C10.53,-1.7 2.48,-1.8 0.72,-3.8"/></g></g><g transform="translate(130.00,384)" stroke-width="4.0"><g transform="translate(0.00,0)"><path class="s" d="M0,-26 L17,-26 M8.5,-26 L8.5,0"/></g><g transform="translate(20.00,0)"><path class="s" d="M2,-18 L2,0"/><path class="s" d="M2,-10.5 C2,-16 4.8,-16 9.6,-16"/></g><g transform="translate(31.00,0)"><path class="s" d="M2,-8.55 A6.2,7.45 0 1 1 14.4,-8.55 A6.2,7.45 0 1 1 2,-8.55 Z"/><path class="s" d="M15.4,-18 L15.4,0"/></g><g transform="translate(53.00,0)"><path class="s" d="M2,-18 L2,0"/><path d="M-0.4,-23.6 A2.4,2.4 0 1 1 4.4,-23.6 A2.4,2.4 0 1 1 -0.4,-23.6 Z"/></g><g transform="translate(62.00,0)"><path class="s" d="M2,-18 L2,0"/><path class="s" d="M2,-10.49 A5.1,5.51 0 0 1 12.2,-10.49 L12.2,0"/></g><g transform="translate(81.00,0)"><path class="s" d="M2,-18 L2,0"/><path d="M-0.4,-23.6 A2.4,2.4 0 1 1 4.4,-23.6 A2.4,2.4 0 1 1 -0.4,-23.6 Z"/></g><g transform="translate(89.00,0)"><path class="s" d="M2,-18 L2,0"/><path class="s" d="M2,-10.49 A5.1,5.51 0 0 1 12.2,-10.49 L12.2,0"/></g><g transform="translate(107.00,0)"><path class="s" d="M2,-8.55 A6.35,7.45 0 1 1 14.7,-8.55 A6.35,7.45 0 1 1 2,-8.55 Z"/><path class="s" d="M15.7,-18 L15.7,1 C15.7,8.2 11.68,8 8.85,8 C6.02,8 3.54,8 2.83,6.4"/></g><g transform="translate(139.00,0)"><path class="s" d="M3.5,0 L3.5,-23 C3.5,-28 5.7,-28 9,-28"/><path class="s" d="M0,-16 L7.8,-16"/></g><g transform="translate(149.00,0)"><path class="s" d="M2,-8.55 A7.4,7.45 0 1 1 16.8,-8.55 A7.4,7.45 0 1 1 2,-8.55 Z"/></g><g transform="translate(172.00,0)"><path class="s" d="M2,-18 L2,0"/><path class="s" d="M2,-10.5 C2,-16 4.8,-16 9.6,-16"/></g><g transform="translate(193.00,0)"><path class="s" d="M3.5,-24 L3.5,-5.5 C3.5,-1.6 5.1,-2 8.7,-2.9"/><path class="s" d="M0,-16 L9,-16"/></g><g transform="translate(204.00,0)"><path class="s" d="M2,-8.55 A7.4,7.45 0 1 1 16.8,-8.55 A7.4,7.45 0 1 1 2,-8.55 Z"/></g><g transform="translate(225.00,0)"><path class="s" d="M2,-8.55 A7.4,7.45 0 1 1 16.8,-8.55 A7.4,7.45 0 1 1 2,-8.55 Z"/></g><g transform="translate(247.00,0)"><path class="s" d="M2,-30 L2,-5.5 C2,-1.6 3.6,-2 7.7,-2.9"/></g><g transform="translate(256.00,0)"><path class="s" d="M11.05,-14.4 C9.91,-16.4 2.58,-16.6 2.17,-13.4 C1.76,-9.4 10.84,-9.8 10.64,-5 C10.53,-1.7 2.48,-1.8 0.72,-3.8"/></g><g transform="translate(282.00,0)"><path class="s" d="M2,-8.55 A6.2,7.45 0 1 1 14.4,-8.55 A6.2,7.45 0 1 1 2,-8.55 Z"/><path class="s" d="M15.4,-18 L15.4,0"/></g><g transform="translate(304.00,0)"><path class="s" d="M2,-18 L2,0"/><path class="s" d="M2,-10.49 A5.1,5.51 0 0 1 12.2,-10.49 L12.2,0"/></g><g transform="translate(321.00,0)"><path class="s" d="M2,-8.55 A6.35,7.45 0 1 1 14.7,-8.55 A6.35,7.45 0 1 1 2,-8.55 Z"/><path class="s" d="M15.7,-30 L15.7,0"/></g><g transform="translate(355.00,0)"><path class="s" d="M3,-8.55 A6.35,7.45 0 1 1 15.7,-8.55 A6.35,7.45 0 1 1 3,-8.55 Z"/><path class="s" d="M2,-18 L2,10"/></g><g transform="translate(376.00,0)"><path class="s" d="M2,-30 L2,-5.5 C2,-1.6 3.6,-2 7.7,-2.9"/></g><g transform="translate(385.00,0)"><path class="s" d="M2,-8.55 A6.2,7.45 0 1 1 14.4,-8.55 A6.2,7.45 0 1 1 2,-8.55 Z"/><path class="s" d="M15.4,-18 L15.4,0"/></g><g transform="translate(405.00,0)"><path class="s" d="M3.5,-24 L3.5,-5.5 C3.5,-1.6 5.1,-2 8.7,-2.9"/><path class="s" d="M0,-16 L9,-16"/></g><g transform="translate(416.00,0)"><path class="s" d="M3.5,0 L3.5,-23 C3.5,-28 5.7,-28 9,-28"/><path class="s" d="M0,-16 L7.8,-16"/></g><g transform="translate(427.00,0)"><path class="s" d="M2,-8.55 A7.4,7.45 0 1 1 16.8,-8.55 A7.4,7.45 0 1 1 2,-8.55 Z"/></g><g transform="translate(449.00,0)"><path class="s" d="M2,-18 L2,0"/><path class="s" d="M2,-10.5 C2,-16 4.8,-16 9.6,-16"/></g><g transform="translate(461.00,0)"><path class="s" d="M2,-18 L2,0"/><path class="s" d="M2,-10.06 A4.75,5.94 0 0 1 11.5,-10.06 L11.5,0"/><path class="s" d="M11.5,-10.06 A4.75,5.94 0 0 1 21,-10.06 L21,0"/></g><g transform="translate(487.00,0)"><path class="s" d="M11.05,-14.4 C9.91,-16.4 2.58,-16.6 2.17,-13.4 C1.76,-9.4 10.84,-9.8 10.64,-5 C10.53,-1.7 2.48,-1.8 0.72,-3.8"/></g></g><g transform="translate(66.60,472)" stroke-width="4.0"><g transform="translate(0.40,0)"><path class="s" d="M16.03,-23.2 C14.63,-26.5 11.03,-26.5 8.83,-26.5 C4.88,-26.5 2.55,-24.5 2.67,-21.2 C2.9,-16.5 15.79,-14.8 15.68,-7.6 C15.56,-2.8 11.85,-1.5 8.01,-1.5 C4.18,-1.5 1.63,-3 0.7,-5.8"/></g><g transform="translate(22.40,0)"><path class="s" d="M11.8,-18 L11.8,0"/><path class="s" d="M2,-18 L2,-7.29 A4.9,5.29 0 0 0 11.8,-7.29"/></g><g transform="translate(40.40,0)"><path class="s" d="M3,-8.55 A6.35,7.45 0 1 1 15.7,-8.55 A6.35,7.45 0 1 1 3,-8.55 Z"/><path class="s" d="M2,-30 L2,0"/></g><g transform="translate(60.40,0)"><path class="s" d="M11.05,-14.4 C9.91,-16.4 2.58,-16.6 2.17,-13.4 C1.76,-9.4 10.84,-9.8 10.64,-5 C10.53,-1.7 2.48,-1.8 0.72,-3.8"/></g><g transform="translate(74.40,0)"><path class="s" d="M15.73,-14.09 L14.66,-14.83 L13.46,-15.4 L12.18,-15.79 L10.84,-15.98 L9.49,-15.97 L8.16,-15.76 L6.88,-15.36 L5.69,-14.77 L4.63,-14.01 L3.72,-13.11 L2.98,-12.08 L2.44,-10.96 L2.11,-9.77 L2,-8.55 L2.11,-7.33 L2.44,-6.14 L2.98,-5.02 L3.72,-3.99 L4.63,-3.09 L5.69,-2.33 L6.88,-1.74 L8.16,-1.34 L9.49,-1.13 L10.84,-1.12 L12.18,-1.31 L13.46,-1.7 L14.66,-2.27 L15.73,-3.01"/></g><g transform="translate(94.40,0)"><path class="s" d="M2,-18 L2,0"/><path class="s" d="M2,-10.5 C2,-16 4.8,-16 9.6,-16"/></g><g transform="translate(106.40,0)"><path class="s" d="M2,-18 L2,0"/><path d="M-0.4,-23.6 A2.4,2.4 0 1 1 4.4,-23.6 A2.4,2.4 0 1 1 -0.4,-23.6 Z"/></g><g transform="translate(115.40,0)"><path class="s" d="M3,-8.55 A6.35,7.45 0 1 1 15.7,-8.55 A6.35,7.45 0 1 1 3,-8.55 Z"/><path class="s" d="M2,-18 L2,10"/></g><g transform="translate(135.40,0)"><path class="s" d="M3.5,-24 L3.5,-5.5 C3.5,-1.6 5.1,-2 8.7,-2.9"/><path class="s" d="M0,-16 L9,-16"/></g><g transform="translate(147.40,0)"><path class="s" d="M2,-18 L2,0"/><path d="M-0.4,-23.6 A2.4,2.4 0 1 1 4.4,-23.6 A2.4,2.4 0 1 1 -0.4,-23.6 Z"/></g><g transform="translate(154.40,0)"><path class="s" d="M2,-8.55 A7.4,7.45 0 1 1 16.8,-8.55 A7.4,7.45 0 1 1 2,-8.55 Z"/></g><g transform="translate(176.40,0)"><path class="s" d="M2,-18 L2,0"/><path class="s" d="M2,-10.49 A5.1,5.51 0 0 1 12.2,-10.49 L12.2,0"/></g><g transform="translate(194.40,0)"><path class="s" d="M11.05,-14.4 C9.91,-16.4 2.58,-16.6 2.17,-13.4 C1.76,-9.4 10.84,-9.8 10.64,-5 C10.53,-1.7 2.48,-1.8 0.72,-3.8"/></g><g transform="translate(220.40,0)"><path class="s" d="M3.5,-24 L3.5,-5.5 C3.5,-1.6 5.1,-2 8.7,-2.9"/><path class="s" d="M0,-16 L9,-16"/></g><g transform="translate(230.40,0)"><path class="s" d="M2,-8.55 A7.4,7.45 0 1 1 16.8,-8.55 A7.4,7.45 0 1 1 2,-8.55 Z"/></g><g transform="translate(262.40,0)"><path class="s" d="M15.73,-14.09 L14.66,-14.83 L13.46,-15.4 L12.18,-15.79 L10.84,-15.98 L9.49,-15.97 L8.16,-15.76 L6.88,-15.36 L5.69,-14.77 L4.63,-14.01 L3.72,-13.11 L2.98,-12.08 L2.44,-10.96 L2.11,-9.77 L2,-8.55 L2.11,-7.33 L2.44,-6.14 L2.98,-5.02 L3.72,-3.99 L4.63,-3.09 L5.69,-2.33 L6.88,-1.74 L8.16,-1.34 L9.49,-1.13 L10.84,-1.12 L12.18,-1.31 L13.46,-1.7 L14.66,-2.27 L15.73,-3.01"/></g><g transform="translate(280.40,0)"><path class="s" d="M2,-8.55 A7.4,7.45 0 1 1 16.8,-8.55 A7.4,7.45 0 1 1 2,-8.55 Z"/></g><g transform="translate(303.40,0)"><path class="s" d="M2,-30 L2,-5.5 C2,-1.6 3.6,-2 7.7,-2.9"/></g><g transform="translate(313.40,0)"><path class="s" d="M2,-30 L2,-5.5 C2,-1.6 3.6,-2 7.7,-2.9"/></g><g transform="translate(322.40,0)"><path class="s" d="M2,-8.55 A6.2,7.45 0 1 1 14.4,-8.55 A6.2,7.45 0 1 1 2,-8.55 Z"/><path class="s" d="M15.4,-18 L15.4,0"/></g><g transform="translate(344.40,0)"><path class="s" d="M3,-8.55 A6.35,7.45 0 1 1 15.7,-8.55 A6.35,7.45 0 1 1 3,-8.55 Z"/><path class="s" d="M2,-30 L2,0"/></g><g transform="translate(364.40,0)"><path class="s" d="M2,-8.55 A7.4,7.45 0 1 1 16.8,-8.55 A7.4,7.45 0 1 1 2,-8.55 Z"/></g><g transform="translate(386.40,0)"><path class="s" d="M2,-18 L2,0"/><path class="s" d="M2,-10.5 C2,-16 4.8,-16 9.6,-16"/></g><g transform="translate(397.40,0)"><path class="s" d="M2,-8.55 A6.2,7.45 0 1 1 14.4,-8.55 A6.2,7.45 0 1 1 2,-8.55 Z"/><path class="s" d="M15.4,-18 L15.4,0"/></g><g transform="translate(417.40,0)"><path class="s" d="M3.5,-24 L3.5,-5.5 C3.5,-1.6 5.1,-2 8.7,-2.9"/><path class="s" d="M0,-16 L9,-16"/></g><g transform="translate(430.40,0)"><path class="s" d="M2,-18 L2,0"/><path d="M-0.4,-23.6 A2.4,2.4 0 1 1 4.4,-23.6 A2.4,2.4 0 1 1 -0.4,-23.6 Z"/></g><g transform="translate(437.40,0)"><path class="s" d="M2,-8.55 A7.4,7.45 0 1 1 16.8,-8.55 A7.4,7.45 0 1 1 2,-8.55 Z"/></g><g transform="translate(459.40,0)"><path class="s" d="M2,-18 L2,0"/><path class="s" d="M2,-10.49 A5.1,5.51 0 0 1 12.2,-10.49 L12.2,0"/></g><g transform="translate(488.40,0)"><path class="s" d="M3.5,-24 L3.5,-5.5 C3.5,-1.6 5.1,-2 8.7,-2.9"/><path class="s" d="M0,-16 L9,-16"/></g><g transform="translate(499.40,0)"><path class="s" d="M2,-8.55 A7.4,7.45 0 1 1 16.8,-8.55 A7.4,7.45 0 1 1 2,-8.55 Z"/></g><g transform="translate(519.40,0)"><path class="s" d="M2,-8.55 A7.4,7.45 0 1 1 16.8,-8.55 A7.4,7.45 0 1 1 2,-8.55 Z"/></g><g transform="translate(542.40,0)"><path class="s" d="M2,-30 L2,-5.5 C2,-1.6 3.6,-2 7.7,-2.9"/></g><g transform="translate(550.40,0)"><path class="s" d="M11.05,-14.4 C9.91,-16.4 2.58,-16.6 2.17,-13.4 C1.76,-9.4 10.84,-9.8 10.64,-5 C10.53,-1.7 2.48,-1.8 0.72,-3.8"/></g></g><g transform="translate(235.50,560)" stroke-width="4.0"><g transform="translate(0.50,0)"><path class="s" d="M2,-28 L2,0 M19,-28 L19,0 M2,-15 L19,-15"/></g><g transform="translate(24.50,0)"><path class="s" d="M2,-8.55 A7.4,7.45 0 1 1 16.8,-8.55 A7.4,7.45 0 1 1 2,-8.55 Z"/></g><g transform="translate(45.50,0)"><path class="s" d="M11.05,-14.4 C9.91,-16.4 2.58,-16.6 2.17,-13.4 C1.76,-9.4 10.84,-9.8 10.64,-5 C10.53,-1.7 2.48,-1.8 0.72,-3.8"/></g><g transform="translate(59.50,0)"><path class="s" d="M3.5,-24 L3.5,-5.5 C3.5,-1.6 5.1,-2 8.7,-2.9"/><path class="s" d="M0,-16 L9,-16"/></g><g transform="translate(80.50,0)"><path class="s" clip-path="url(#cX)" stroke-width="4.40" stroke-linejoin="miter" stroke-miterlimit="20" d="M-0.32,-24 L8.75,-4.11 L17.82,-24"/></g><g transform="translate(100.50,0)"><path class="s" d="M2,-18 L2,0"/><path d="M-0.4,-23.6 A2.4,2.4 0 1 1 4.4,-23.6 A2.4,2.4 0 1 1 -0.4,-23.6 Z"/></g><g transform="translate(109.50,0)"><path class="s" d="M2,-18 L2,0"/><path class="s" d="M2,-10.5 C2,-16 4.8,-16 9.6,-16"/></g><g transform="translate(120.50,0)"><path class="s" d="M3.5,-24 L3.5,-5.5 C3.5,-1.6 5.1,-2 8.7,-2.9"/><path class="s" d="M0,-16 L9,-16"/></g><g transform="translate(132.50,0)"><path class="s" d="M11.8,-18 L11.8,0"/><path class="s" d="M2,-18 L2,-7.29 A4.9,5.29 0 0 0 11.8,-7.29"/></g><g transform="translate(149.50,0)"><path class="s" d="M2,-8.55 A6.2,7.45 0 1 1 14.4,-8.55 A6.2,7.45 0 1 1 2,-8.55 Z"/><path class="s" d="M15.4,-18 L15.4,0"/></g><g transform="translate(171.50,0)"><path class="s" d="M2,-30 L2,-5.5 C2,-1.6 3.6,-2 7.7,-2.9"/></g><g transform="translate(191.50,0)"><path class="s" d="M11.05,-14.4 C9.91,-16.4 2.58,-16.6 2.17,-13.4 C1.76,-9.4 10.84,-9.8 10.64,-5 C10.53,-1.7 2.48,-1.8 0.72,-3.8"/></g><g transform="translate(206.50,0)"><path class="s" d="M2,-8.55 A7.4,7.45 0 1 1 16.8,-8.55 A7.4,7.45 0 1 1 2,-8.55 Z"/></g><g transform="translate(227.50,0)"><path class="s" d="M15.73,-14.09 L14.66,-14.83 L13.46,-15.4 L12.18,-15.79 L10.84,-15.98 L9.49,-15.97 L8.16,-15.76 L6.88,-15.36 L5.69,-14.77 L4.63,-14.01 L3.72,-13.11 L2.98,-12.08 L2.44,-10.96 L2.11,-9.77 L2,-8.55 L2.11,-7.33 L2.44,-6.14 L2.98,-5.02 L3.72,-3.99 L4.63,-3.09 L5.69,-2.33 L6.88,-1.74 L8.16,-1.34 L9.49,-1.13 L10.84,-1.12 L12.18,-1.31 L13.46,-1.7 L14.66,-2.27 L15.73,-3.01"/></g><g transform="translate(246.50,0)"><path class="s" d="M2,-18 L2,0"/><path d="M-0.4,-23.6 A2.4,2.4 0 1 1 4.4,-23.6 A2.4,2.4 0 1 1 -0.4,-23.6 Z"/></g><g transform="translate(254.50,0)"><path class="s" d="M2,-8.55 A6.2,7.45 0 1 1 14.4,-8.55 A6.2,7.45 0 1 1 2,-8.55 Z"/><path class="s" d="M15.4,-18 L15.4,0"/></g><g transform="translate(276.50,0)"><path class="s" d="M2,-30 L2,-5.5 C2,-1.6 3.6,-2 7.7,-2.9"/></g><g transform="translate(296.50,0)"><path class="s" d="M15.3,-8.55 L15.17,-10.03 L14.78,-11.44 L14.14,-12.75 L13.29,-13.88 L12.26,-14.81 L11.08,-15.49 L9.8,-15.89 L8.48,-16 L7.17,-15.81 L5.91,-15.34 L4.77,-14.6 L3.78,-13.62 L2.98,-12.43 L2.4,-11.1 L2.07,-9.66 L2.01,-8.18 L2.21,-6.71 L2.66,-5.32 L3.35,-4.05 L4.25,-2.96 L5.32,-2.1 L6.53,-1.49 L7.82,-1.16 L9.15,-1.12 L10.45,-1.38 L11.68,-1.92 L12.8,-2.73 L13.74,-3.76"/><path class="s" d="M1,-9.4 L16.9,-9.4"/></g><g transform="translate(314.50,0)"><path class="s" clip-path="url(#cX)" stroke-width="4.40" stroke-linejoin="miter" stroke-miterlimit="20" d="M-0.32,-24 L8.75,-4.11 L17.82,-24"/></g><g transform="translate(332.50,0)"><path class="s" d="M15.3,-8.55 L15.17,-10.03 L14.78,-11.44 L14.14,-12.75 L13.29,-13.88 L12.26,-14.81 L11.08,-15.49 L9.8,-15.89 L8.48,-16 L7.17,-15.81 L5.91,-15.34 L4.77,-14.6 L3.78,-13.62 L2.98,-12.43 L2.4,-11.1 L2.07,-9.66 L2.01,-8.18 L2.21,-6.71 L2.66,-5.32 L3.35,-4.05 L4.25,-2.96 L5.32,-2.1 L6.53,-1.49 L7.82,-1.16 L9.15,-1.12 L10.45,-1.38 L11.68,-1.92 L12.8,-2.73 L13.74,-3.76"/><path class="s" d="M1,-9.4 L16.9,-9.4"/></g><g transform="translate(353.50,0)"><path class="s" d="M2,-18 L2,0"/><path class="s" d="M2,-10.49 A5.1,5.51 0 0 1 12.2,-10.49 L12.2,0"/></g><g transform="translate(370.50,0)"><path class="s" d="M3.5,-24 L3.5,-5.5 C3.5,-1.6 5.1,-2 8.7,-2.9"/><path class="s" d="M0,-16 L9,-16"/></g><g transform="translate(381.50,0)"><path class="s" d="M11.05,-14.4 C9.91,-16.4 2.58,-16.6 2.17,-13.4 C1.76,-9.4 10.84,-9.8 10.64,-5 C10.53,-1.7 2.48,-1.8 0.72,-3.8"/></g></g><g transform="translate(195.10,648)" stroke-width="4.0"><g transform="translate(-0.10,0)"><path class="s" d="M2,-28 L2,0 M19,-28 L19,0 M2,-15 L19,-15"/></g><g transform="translate(24.90,0)"><path class="s" d="M2,-8.55 A7.4,7.45 0 1 1 16.8,-8.55 A7.4,7.45 0 1 1 2,-8.55 Z"/></g><g transform="translate(45.90,0)"><path class="s" d="M11.05,-14.4 C9.91,-16.4 2.58,-16.6 2.17,-13.4 C1.76,-9.4 10.84,-9.8 10.64,-5 C10.53,-1.7 2.48,-1.8 0.72,-3.8"/></g><g transform="translate(59.90,0)"><path class="s" d="M3.5,-24 L3.5,-5.5 C3.5,-1.6 5.1,-2 8.7,-2.9"/><path class="s" d="M0,-16 L9,-16"/></g><g transform="translate(80.90,0)"><path class="s" clip-path="url(#cX)" stroke-width="4.40" stroke-linejoin="miter" stroke-miterlimit="20" d="M-0.32,-24 L8.75,-4.11 L17.82,-24"/></g><g transform="translate(99.90,0)"><path class="s" d="M2,-18 L2,0"/><path d="M-0.4,-23.6 A2.4,2.4 0 1 1 4.4,-23.6 A2.4,2.4 0 1 1 -0.4,-23.6 Z"/></g><g transform="translate(108.90,0)"><path class="s" d="M2,-18 L2,0"/><path class="s" d="M2,-10.5 C2,-16 4.8,-16 9.6,-16"/></g><g transform="translate(119.90,0)"><path class="s" d="M3.5,-24 L3.5,-5.5 C3.5,-1.6 5.1,-2 8.7,-2.9"/><path class="s" d="M0,-16 L9,-16"/></g><g transform="translate(131.90,0)"><path class="s" d="M11.8,-18 L11.8,0"/><path class="s" d="M2,-18 L2,-7.29 A4.9,5.29 0 0 0 11.8,-7.29"/></g><g transform="translate(148.90,0)"><path class="s" d="M2,-8.55 A6.2,7.45 0 1 1 14.4,-8.55 A6.2,7.45 0 1 1 2,-8.55 Z"/><path class="s" d="M15.4,-18 L15.4,0"/></g><g transform="translate(171.90,0)"><path class="s" d="M2,-30 L2,-5.5 C2,-1.6 3.6,-2 7.7,-2.9"/></g><g transform="translate(189.90,0)"><path class="s" clip-path="url(#cX)" stroke-width="4.40" stroke-linejoin="miter" stroke-miterlimit="20" d="M0.14,-24 L7.05,-5.18 L14.1,-15.02 L21.15,-5.18 L28.06,-24"/></g><g transform="translate(218.90,0)"><path class="s" d="M15.3,-8.55 L15.17,-10.03 L14.78,-11.44 L14.14,-12.75 L13.29,-13.88 L12.26,-14.81 L11.08,-15.49 L9.8,-15.89 L8.48,-16 L7.17,-15.81 L5.91,-15.34 L4.77,-14.6 L3.78,-13.62 L2.98,-12.43 L2.4,-11.1 L2.07,-9.66 L2.01,-8.18 L2.21,-6.71 L2.66,-5.32 L3.35,-4.05 L4.25,-2.96 L5.32,-2.1 L6.53,-1.49 L7.82,-1.16 L9.15,-1.12 L10.45,-1.38 L11.68,-1.92 L12.8,-2.73 L13.74,-3.76"/><path class="s" d="M1,-9.4 L16.9,-9.4"/></g><g transform="translate(239.90,0)"><path class="s" d="M2,-30 L2,-5.5 C2,-1.6 3.6,-2 7.7,-2.9"/></g><g transform="translate(249.90,0)"><path class="s" d="M2,-30 L2,-5.5 C2,-1.6 3.6,-2 7.7,-2.9"/></g><g transform="translate(259.90,0)"><path class="s" d="M2,-18 L2,0"/><path class="s" d="M2,-10.49 A5.1,5.51 0 0 1 12.2,-10.49 L12.2,0"/></g><g transform="translate(277.90,0)"><path class="s" d="M15.3,-8.55 L15.17,-10.03 L14.78,-11.44 L14.14,-12.75 L13.29,-13.88 L12.26,-14.81 L11.08,-15.49 L9.8,-15.89 L8.48,-16 L7.17,-15.81 L5.91,-15.34 L4.77,-14.6 L3.78,-13.62 L2.98,-12.43 L2.4,-11.1 L2.07,-9.66 L2.01,-8.18 L2.21,-6.71 L2.66,-5.32 L3.35,-4.05 L4.25,-2.96 L5.32,-2.1 L6.53,-1.49 L7.82,-1.16 L9.15,-1.12 L10.45,-1.38 L11.68,-1.92 L12.8,-2.73 L13.74,-3.76"/><path class="s" d="M1,-9.4 L16.9,-9.4"/></g><g transform="translate(296.90,0)"><path class="s" d="M11.05,-14.4 C9.91,-16.4 2.58,-16.6 2.17,-13.4 C1.76,-9.4 10.84,-9.8 10.64,-5 C10.53,-1.7 2.48,-1.8 0.72,-3.8"/></g><g transform="translate(311.90,0)"><path class="s" d="M11.05,-14.4 C9.91,-16.4 2.58,-16.6 2.17,-13.4 C1.76,-9.4 10.84,-9.8 10.64,-5 C10.53,-1.7 2.48,-1.8 0.72,-3.8"/></g><g transform="translate(336.90,0)"><path class="s" d="M15.3,-8.55 L15.17,-10.03 L14.78,-11.44 L14.14,-12.75 L13.29,-13.88 L12.26,-14.81 L11.08,-15.49 L9.8,-15.89 L8.48,-16 L7.17,-15.81 L5.91,-15.34 L4.77,-14.6 L3.78,-13.62 L2.98,-12.43 L2.4,-11.1 L2.07,-9.66 L2.01,-8.18 L2.21,-6.71 L2.66,-5.32 L3.35,-4.05 L4.25,-2.96 L5.32,-2.1 L6.53,-1.49 L7.82,-1.16 L9.15,-1.12 L10.45,-1.38 L11.68,-1.92 L12.8,-2.73 L13.74,-3.76"/><path class="s" d="M1,-9.4 L16.9,-9.4"/></g><g transform="translate(354.90,0)"><path class="s" clip-path="url(#cX)" stroke-width="4.40" stroke-linejoin="miter" stroke-miterlimit="20" d="M-0.32,-24 L8.75,-4.11 L17.82,-24"/></g><g transform="translate(372.90,0)"><path class="s" d="M15.3,-8.55 L15.17,-10.03 L14.78,-11.44 L14.14,-12.75 L13.29,-13.88 L12.26,-14.81 L11.08,-15.49 L9.8,-15.89 L8.48,-16 L7.17,-15.81 L5.91,-15.34 L4.77,-14.6 L3.78,-13.62 L2.98,-12.43 L2.4,-11.1 L2.07,-9.66 L2.01,-8.18 L2.21,-6.71 L2.66,-5.32 L3.35,-4.05 L4.25,-2.96 L5.32,-2.1 L6.53,-1.49 L7.82,-1.16 L9.15,-1.12 L10.45,-1.38 L11.68,-1.92 L12.8,-2.73 L13.74,-3.76"/><path class="s" d="M1,-9.4 L16.9,-9.4"/></g><g transform="translate(393.90,0)"><path class="s" d="M2,-18 L2,0"/><path class="s" d="M2,-10.49 A5.1,5.51 0 0 1 12.2,-10.49 L12.2,0"/></g><g transform="translate(411.90,0)"><path class="s" d="M3.5,-24 L3.5,-5.5 C3.5,-1.6 5.1,-2 8.7,-2.9"/><path class="s" d="M0,-16 L9,-16"/></g><g transform="translate(421.90,0)"><path class="s" d="M11.05,-14.4 C9.91,-16.4 2.58,-16.6 2.17,-13.4 C1.76,-9.4 10.84,-9.8 10.64,-5 C10.53,-1.7 2.48,-1.8 0.72,-3.8"/></g></g><g transform="translate(537.40,736)" stroke-width="4.0"><g transform="translate(-0.40,0)"><path class="s" d="M2,-13.8 A12.4,12.6 0 1 1 26.8,-13.8 A12.4,12.6 0 1 1 2,-13.8 Z"/></g><g transform="translate(31.60,0)"><path class="s" d="M3.5,-24 L3.5,-5.5 C3.5,-1.6 5.1,-2 8.7,-2.9"/><path class="s" d="M0,-16 L9,-16"/></g><g transform="translate(43.60,0)"><path class="s" d="M2,-30 L2,0"/><path class="s" d="M2,-10.49 A5.1,5.51 0 0 1 12.2,-10.49 L12.2,0"/></g><g transform="translate(61.60,0)"><path class="s" d="M15.3,-8.55 L15.17,-10.03 L14.78,-11.44 L14.14,-12.75 L13.29,-13.88 L12.26,-14.81 L11.08,-15.49 L9.8,-15.89 L8.48,-16 L7.17,-15.81 L5.91,-15.34 L4.77,-14.6 L3.78,-13.62 L2.98,-12.43 L2.4,-11.1 L2.07,-9.66 L2.01,-8.18 L2.21,-6.71 L2.66,-5.32 L3.35,-4.05 L4.25,-2.96 L5.32,-2.1 L6.53,-1.49 L7.82,-1.16 L9.15,-1.12 L10.45,-1.38 L11.68,-1.92 L12.8,-2.73 L13.74,-3.76"/><path class="s" d="M1,-9.4 L16.9,-9.4"/></g><g transform="translate(82.60,0)"><path class="s" d="M2,-18 L2,0"/><path class="s" d="M2,-10.5 C2,-16 4.8,-16 9.6,-16"/></g></g></svg>
<svg shape-rendering="crispEdges" class="ov" width="1336" height="744"><path transform="translate(1260.8,32)" d="M13.1,-29 L19,-29 L19,-9.8 L22,-9.8 L22,-5.1 L19,-5.1 L19,0 L13.1,0 L13.1,-5.1 L0,-5.1 L0,-8.9 Z M8.1,-10.3 L12.9,-17 L12.9,-10.3 Z"/><path transform="translate(1282.9,32)" d="M4.6,-28.1 L19.1,-28.1 L19.1,-23 L9.9,-23 L9.9,-20.4 L15.2,-18.6 L18.2,-16 L20.2,-11.7 L20.2,-6.8 L18.2,-3.4 L13.8,-0.1 L9,0.8 L3.6,-0.1 L0,-3.4 L0,-7.4 L1.7,-8.4 L4.1,-6.7 L7,-5.5 L10.9,-5.6 L13.8,-9.6 L10.9,-13.9 L8,-15.1 L4.1,-13.6 L2.3,-13.1 L3.4,-20.4 Z"/><g class="s" transform="translate(1305,32)"><circle cx="6.8" cy="-21" r="4.95" stroke-width="3.9"/><circle cx="22.6" cy="-6" r="5.05" stroke-width="4.1"/><line x1="22.5" y1="-28.5" x2="7" y2="0.5" stroke-width="3.6"/></g><path transform="translate(1216,120)" d="M13.1,-29 L19,-29 L19,-9.8 L22,-9.8 L22,-5.1 L19,-5.1 L19,0 L13.1,0 L13.1,-5.1 L0,-5.1 L0,-8.9 Z M8.1,-10.3 L12.9,-17 L12.9,-10.3 Z"/><path transform="translate(1239.9,120)" d="M0,-28.1 L10.7,-28.1 L10.7,0 L4.3,0 L4.3,-22.3 L0,-22.3 Z"/><g class="s" transform="translate(1259,120)"><circle cx="6.8" cy="-21" r="4.95" stroke-width="3.9"/><circle cx="22.6" cy="-6" r="5.05" stroke-width="4.1"/><line x1="22.5" y1="-28.5" x2="7" y2="0.5" stroke-width="3.6"/></g><path transform="translate(1214,208)" d="M13.1,-29 L19,-29 L19,-9.8 L22,-9.8 L22,-5.1 L19,-5.1 L19,0 L13.1,0 L13.1,-5.1 L0,-5.1 L0,-8.9 Z M8.1,-10.3 L12.9,-17 L12.9,-10.3 Z"/><path transform="translate(1237.9,208)" d="M0,-28.1 L10.7,-28.1 L10.7,0 L4.3,0 L4.3,-22.3 L0,-22.3 Z"/><g class="s" transform="translate(1257,208)"><circle cx="6.8" cy="-21" r="4.95" stroke-width="3.9"/><circle cx="22.6" cy="-6" r="5.05" stroke-width="4.1"/><line x1="22.5" y1="-28.5" x2="7" y2="0.5" stroke-width="3.6"/></g><path transform="translate(1023.8,296)" d="M0,-18.2 L0,-20.9 L1.45,-24.3 L3.4,-26.7 L6.3,-28.1 L14.8,-28.1 L17.4,-26.2 L19.9,-22.8 L20.1,-15.5 L18.4,-12.6 L12.1,-5.4 L20.1,-5.4 L20.1,0 L0,0 L0,-1 L13,-15.5 L13.8,-17.5 L14,-19.9 L13,-21.8 L10.6,-23 L8.2,-22.1 L7,-20.9 L7,-18.2 Z"/><path transform="translate(1045.9,296)" d="M0.8,-13.5 L11.1,-28.9 L12.6,-28.9 L16,-26.7 L16,-24.7 L11.1,-18.7 L5,-13 Z"/><circle class="s" transform="translate(1045.9,296)" cx="11" cy="-8.7" r="7.5" stroke-width="5.8"/><g class="s" transform="translate(1067.9,296)"><circle cx="6.8" cy="-21" r="4.95" stroke-width="3.9"/><circle cx="22.6" cy="-6" r="5.05" stroke-width="4.1"/><line x1="22.5" y1="-28.5" x2="7" y2="0.5" stroke-width="3.6"/></g><path transform="translate(970.85,384)" d="M0,-18.2 L0,-20.9 L1.45,-24.3 L3.4,-26.7 L6.3,-28.1 L14.8,-28.1 L17.4,-26.2 L19.9,-22.8 L20.1,-15.5 L18.4,-12.6 L12.1,-5.4 L20.1,-5.4 L20.1,0 L0,0 L0,-1 L13,-15.5 L13.8,-17.5 L14,-19.9 L13,-21.8 L10.6,-23 L8.2,-22.1 L7,-20.9 L7,-18.2 Z"/><path transform="translate(993,384)" d="M0,-18.2 L0,-20.9 L1.45,-24.3 L3.4,-26.7 L6.3,-28.1 L14.8,-28.1 L17.4,-26.2 L19.9,-22.8 L20.1,-15.5 L18.4,-12.6 L12.1,-5.4 L20.1,-5.4 L20.1,0 L0,0 L0,-1 L13,-15.5 L13.8,-17.5 L14,-19.9 L13,-21.8 L10.6,-23 L8.2,-22.1 L7,-20.9 L7,-18.2 Z"/><g class="s" transform="translate(1015,384)"><circle cx="6.8" cy="-21" r="4.95" stroke-width="3.9"/><circle cx="22.6" cy="-6" r="5.05" stroke-width="4.1"/><line x1="22.5" y1="-28.5" x2="7" y2="0.5" stroke-width="3.6"/></g><path transform="translate(958.85,473)" d="M0,-18.2 L0,-20.9 L1.45,-24.3 L3.4,-26.7 L6.3,-28.1 L14.8,-28.1 L17.4,-26.2 L19.9,-22.8 L20.1,-15.5 L18.4,-12.6 L12.1,-5.4 L20.1,-5.4 L20.1,0 L0,0 L0,-1 L13,-15.5 L13.8,-17.5 L14,-19.9 L13,-21.8 L10.6,-23 L8.2,-22.1 L7,-20.9 L7,-18.2 Z"/><path transform="translate(982.9,473)" d="M0,-28.1 L10.7,-28.1 L10.7,0 L4.3,0 L4.3,-22.3 L0,-22.3 Z"/><g class="s" transform="translate(1002,473)"><circle cx="6.8" cy="-21" r="4.95" stroke-width="3.9"/><circle cx="22.6" cy="-6" r="5.05" stroke-width="4.1"/><line x1="22.5" y1="-28.5" x2="7" y2="0.5" stroke-width="3.6"/></g><path transform="translate(886.8,561)" d="M0,-28.1 L10.7,-28.1 L10.7,0 L4.3,0 L4.3,-22.3 L0,-22.3 Z"/><path transform="translate(901.9,561)" d="M4.6,-28.1 L19.1,-28.1 L19.1,-23 L9.9,-23 L9.9,-20.4 L15.2,-18.6 L18.2,-16 L20.2,-11.7 L20.2,-6.8 L18.2,-3.4 L13.8,-0.1 L9,0.8 L3.6,-0.1 L0,-3.4 L0,-7.4 L1.7,-8.4 L4.1,-6.7 L7,-5.5 L10.9,-5.6 L13.8,-9.6 L10.9,-13.9 L8,-15.1 L4.1,-13.6 L2.3,-13.1 L3.4,-20.4 Z"/><g class="s" transform="translate(924.7,561)"><circle cx="6.8" cy="-21" r="4.95" stroke-width="3.9"/><circle cx="22.6" cy="-6" r="5.05" stroke-width="4.1"/><line x1="22.5" y1="-28.5" x2="7" y2="0.5" stroke-width="3.6"/></g><path transform="translate(848.7,649)" d="M0,-28.1 L10.7,-28.1 L10.7,0 L4.3,0 L4.3,-22.3 L0,-22.3 Z"/><path transform="translate(863.9,649)" d="M0,-18.2 L0,-20.9 L1.45,-24.3 L3.4,-26.7 L6.3,-28.1 L14.8,-28.1 L17.4,-26.2 L19.9,-22.8 L20.1,-15.5 L18.4,-12.6 L12.1,-5.4 L20.1,-5.4 L20.1,0 L0,0 L0,-1 L13,-15.5 L13.8,-17.5 L14,-19.9 L13,-21.8 L10.6,-23 L8.2,-22.1 L7,-20.9 L7,-18.2 Z"/><g class="s" transform="translate(886,649)"><circle cx="6.8" cy="-21" r="4.95" stroke-width="3.9"/><circle cx="22.6" cy="-6" r="5.05" stroke-width="4.1"/><line x1="22.5" y1="-28.5" x2="7" y2="0.5" stroke-width="3.6"/></g><path transform="translate(740.9,737)" d="M13.1,-29 L19,-29 L19,-9.8 L22,-9.8 L22,-5.1 L19,-5.1 L19,0 L13.1,0 L13.1,-5.1 L0,-5.1 L0,-8.9 Z M8.1,-10.3 L12.9,-17 L12.9,-10.3 Z"/><g class="s" transform="translate(764.1,737)"><circle cx="6.8" cy="-21" r="4.95" stroke-width="3.9"/><circle cx="22.6" cy="-6" r="5.05" stroke-width="4.1"/><line x1="22.5" y1="-28.5" x2="7" y2="0.5" stroke-width="3.6"/></g></svg>
<div class="tx" aria-hidden="false"><div class="tl" style="top:2px">Internet or Wi-Fi subsidy</div><div class="tp" style="top:2px;left:1261px">45%</div><div class="tl" style="top:90px">Better or newer hardware</div><div class="tp" style="top:90px;left:1216px">41%</div><div class="tl" style="top:178px">Reimbursement for home-office equipment</div><div class="tp" style="top:178px;left:1214px">41%</div><div class="tl" style="top:266px">Free or discounted wellness services</div><div class="tp" style="top:266px;left:1024px">26%</div><div class="tl" style="top:354px">Training for tools and platforms</div><div class="tp" style="top:354px;left:971px">22%</div><div class="tl" style="top:442px">Subscriptions to collaboration tools</div><div class="tp" style="top:442px;left:960px">21%</div><div class="tl" style="top:530px">Host virtual social events</div><div class="tp" style="top:530px;left:883px">15%</div><div class="tl" style="top:618px">Host virtual wellness events</div><div class="tp" style="top:618px;left:844px">12%</div><div class="tl" style="top:706px">Other</div><div class="tp" style="top:706px;left:741px">4%</div></div>
</body></html>
